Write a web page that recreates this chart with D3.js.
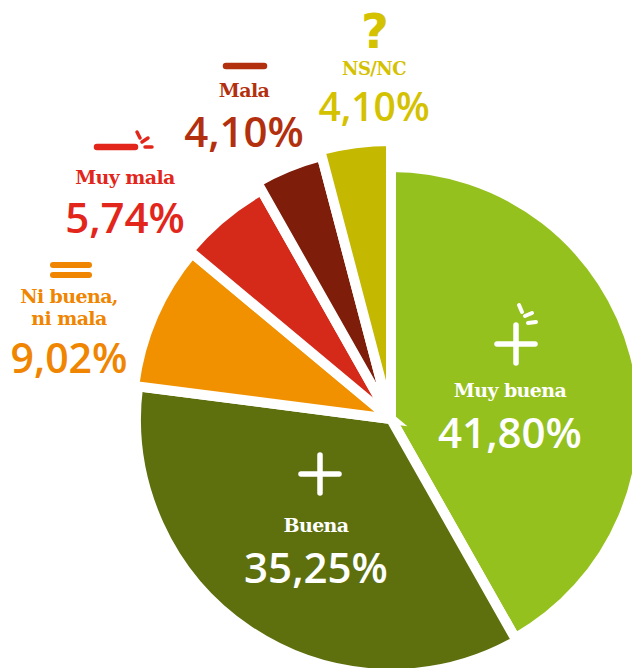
<!DOCTYPE html>
<html>
<head>
<meta charset="utf-8">
<script src="https://cdn.jsdelivr.net/npm/d3@7"></script>
<style>
  html, body { margin: 0; padding: 0; background: #ffffff; }
  svg { display: block; }
  .name { font-family: "DejaVu Serif", serif; font-weight: bold; letter-spacing: -0.6px; }
  .value { font-family: "Open Sans", sans-serif; font-weight: 600; }
</style>
</head>
<body>
<script>
// ---- data ----
const categories = ["Muy buena", "Buena", "Ni buena, ni mala", "Muy mala", "Mala", "NS/NC"];
const values = [41.80, 35.25, 9.02, 5.74, 4.10, 4.10];
const nameLines = [["Muy buena"], ["Buena"], ["Ni buena,", "ni mala"], ["Muy mala"], ["Mala"], ["NS/NC"]];
const icons = ["plusSpark", "plus", "equal", "minusSpark", "minus", "question"];
const sliceColors = ["#95c11f", "#5e700e", "#f29100", "#d52a1a", "#7e1d0a", "#c4b900"];
const labelColors = ["#ffffff", "#ffffff", "#ef8500", "#e2261b", "#b3300f", "#d4c100"];

// ---- layout (styling, not data) ----
const W = 632, H = 668;
const cx = 391, cy = 419;
const outerRadii = [252, 255, 259, 263, 272, 278];
const gap = 10;
const labelLayout = [
  { x: 510, icon: [516, 344], names: [397], value: 448, vs: 42, ns: 19 },
  { x: 316, icon: [320, 474], names: [532], value: 583, vs: 42, ns: 19 },
  { x: 69,  icon: [71, 270],  names: [303, 325], value: 373, vs: 41, ns: 19 },
  { x: 125, icon: [116, 147], names: [184], value: 233, vs: 42, ns: 19 },
  { x: 244, icon: [245, 66],  names: [97], value: 147, vs: 42, ns: 19 },
  { x: 374, icon: [375, 31],  names: [75], value: 121, vs: 39, ns: 18 }
];

const locale = d3.formatLocale({ decimal: ",", thousands: ".", grouping: [3], currency: ["", "€"] });
const fmt = v => locale.format(".2f")(v) + "%";

const svg = d3.select("body").append("svg").attr("width", W).attr("height", H);

const pie = d3.pie().sort(null).value(d => d).startAngle(0).endAngle(2 * Math.PI);
const arcs = pie(values);

const g = svg.append("g").attr("transform", `translate(${cx},${cy})`);
g.selectAll("path.slice")
  .data(arcs)
  .join("path")
  .attr("class", "slice")
  .attr("d", (d, i) => d3.arc().innerRadius(0).outerRadius(outerRadii[i])(d))
  .attr("fill", (d, i) => sliceColors[i])
  .attr("stroke", "#ffffff")
  .attr("stroke-width", gap)
  .attr("stroke-linejoin", "miter");

// ---- labels ----
const labels = svg.selectAll("g.label").data(arcs).join("g").attr("class", "label");

labels.each(function (d, i) {
  const el = d3.select(this);
  const L = labelLayout[i];
  const col = labelColors[i];
  const [ix, iy] = L.icon;
  const line = (x1, y1, x2, y2, w) => el.append("line")
    .attr("x1", x1).attr("y1", y1).attr("x2", x2).attr("y2", y2)
    .attr("stroke", col).attr("stroke-width", w).attr("stroke-linecap", "round");

  const type = icons[i];
  if (type === "plus" || type === "plusSpark") {
    line(ix - 19, iy, ix + 19, iy, 5.5);
    line(ix, iy - 19, ix, iy + 19, 5.5);
    if (type === "plusSpark") {
      line(ix + 3, iy - 39, ix + 6, iy - 32, 4);
      line(ix + 9, iy - 28, ix + 16, iy - 31, 4);
      line(ix + 12, iy - 21, ix + 20, iy - 22, 4);
    }
  } else if (type === "equal") {
    line(ix - 18, iy - 5, ix + 18, iy - 5, 6);
    line(ix - 18, iy + 5, ix + 18, iy + 5, 6);
  } else if (type === "minus" || type === "minusSpark") {
    line(ix - 19, iy, ix + 19, iy, 6.5);
    if (type === "minusSpark") {
      const ex = ix + 21;
      line(ex, iy - 15, ex + 3, iy - 9, 3.5);
      line(ex + 5, iy - 5, ex + 11, iy - 9, 3.5);
      line(ex + 8, iy, ex + 15, iy, 3.5);
    }
  } else if (type === "question") {
    el.append("text")
      .attr("x", ix).attr("y", iy + 17)
      .attr("text-anchor", "middle")
      .attr("fill", col)
      .style("font-family", "'DejaVu Sans', sans-serif")
      .style("font-weight", "bold")
      .style("font-size", "48px")
      .text("?");
  }

  nameLines[i].forEach((t, k) => {
    el.append("text")
      .attr("class", "name")
      .attr("x", L.x).attr("y", L.names[k])
      .attr("text-anchor", "middle")
      .attr("fill", col)
      .style("font-size", L.ns + "px")
      .text(t);
  });

  el.append("text")
    .attr("class", "value")
    .attr("x", L.x).attr("y", L.value)
    .attr("text-anchor", "middle")
    .attr("fill", col)
    .style("font-size", L.vs + "px")
    .text(fmt(values[i]));
});
</script>
</body>
</html>
